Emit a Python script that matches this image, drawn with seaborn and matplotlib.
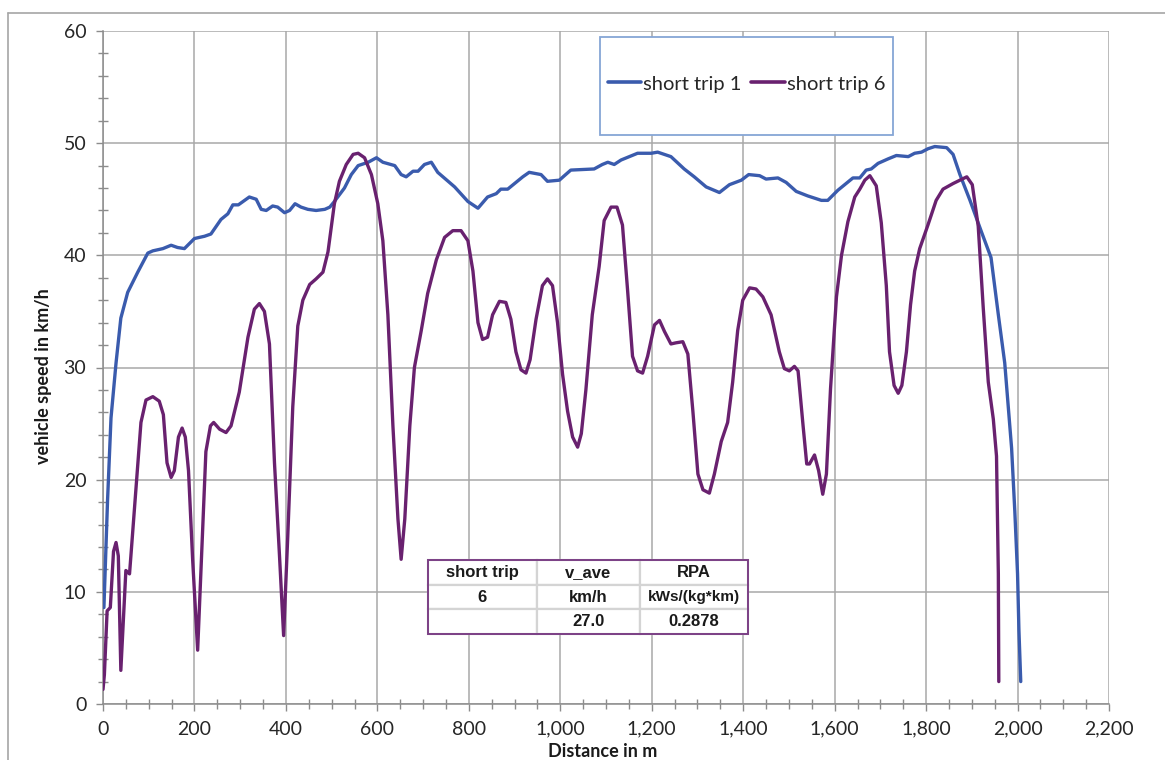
import numpy as np
import pandas as pd
import seaborn as sns
import matplotlib.pyplot as plt
from matplotlib.ticker import MultipleLocator, FuncFormatter
from matplotlib.patches import Rectangle
from matplotlib.lines import Line2D

# ---------------- data ----------------
trip1_distance = [2, 10, 17.5, 28.5, 39, 54, 76, 98, 109, 131, 149, 163, 178, 200, 222, 236, 258, 273,
                  284, 296, 320, 335, 346, 357, 371, 382, 397, 408, 420, 433, 448, 466, 485, 496, 506,
                  528, 543, 558, 580, 598, 612, 638, 652, 663, 678, 689, 703, 718, 732, 769, 798, 820,
                  841, 860, 870, 885, 900, 918, 932, 958, 972, 998, 1009, 1023, 1074, 1092, 1104, 1118,
                  1133, 1169, 1199, 1213, 1242, 1271, 1293, 1319, 1348, 1370, 1396, 1412, 1436, 1450,
                  1476, 1494, 1516, 1541, 1571, 1585, 1607, 1640, 1655, 1669, 1680, 1695, 1717, 1735,
                  1761, 1775, 1790, 1804, 1819, 1845, 1859, 1874, 1896, 1921, 1942, 1958, 1972, 1987,
                  1994, 2000, 2003, 2007]
trip1_speed = [8.6, 18.2, 25.5, 30.4, 34.4, 36.7, 38.5, 40.2, 40.4, 40.6, 40.9, 40.7, 40.6, 41.5, 41.7,
               41.9, 43.2, 43.7, 44.5, 44.5, 45.2, 45.0, 44.1, 44.0, 44.4, 44.3, 43.8, 44.0, 44.6, 44.3,
               44.1, 44.0, 44.1, 44.3, 44.8, 46.0, 47.2, 48.0, 48.3, 48.7, 48.3, 48.0, 47.2, 47.0, 47.5,
               47.5, 48.1, 48.3, 47.4, 46.1, 44.8, 44.2, 45.2, 45.5, 45.9, 45.9, 46.4, 47.0, 47.4, 47.2,
               46.6, 46.7, 47.1, 47.6, 47.7, 48.1, 48.3, 48.1, 48.5, 49.1, 49.1, 49.2, 48.8, 47.7, 47.0,
               46.1, 45.6, 46.3, 46.7, 47.2, 47.1, 46.8, 46.9, 46.5, 45.7, 45.3, 44.9, 44.9, 45.8, 46.9,
               46.9, 47.6, 47.7, 48.2, 48.6, 48.9, 48.8, 49.1, 49.2, 49.5, 49.7, 49.6, 49.0, 47.2, 44.9,
               42.1, 39.8, 34.7, 30.4, 22.8, 17.2, 11.6, 6.6, 2.0]

trip6_distance = [0, 3, 9, 16, 23, 28.5, 33.5, 39, 50, 58, 61, 72, 83, 94, 109, 123, 132, 140, 149, 156,
                  165, 173, 180, 187, 196, 207, 214, 225, 235, 242, 255, 269, 280, 298, 317, 331, 342,
                  353, 364, 375, 386, 395, 404, 415, 426, 437, 452, 466, 481, 492, 506, 517, 532, 547,
                  558, 572, 587, 601, 612, 623, 634, 645, 652, 660, 671, 681, 696, 710, 729, 747, 765,
                  783, 798, 809, 820, 830, 841, 852, 867, 881, 892, 903, 914, 925, 934, 947, 961, 972,
                  983, 994, 1005, 1016, 1027, 1038, 1046, 1056, 1070, 1085, 1096, 1111, 1124, 1136,
                  1147, 1158, 1169, 1180, 1191, 1206, 1217, 1228, 1242, 1253, 1268, 1279, 1290, 1301,
                  1312, 1326, 1337, 1352, 1366, 1377, 1388, 1399, 1414, 1428, 1443, 1461, 1479, 1490,
                  1501, 1512, 1520, 1531, 1539, 1545, 1556, 1565, 1574, 1582, 1591, 1604, 1615, 1629,
                  1644, 1655, 1666, 1677, 1691, 1702, 1713, 1720, 1730, 1739, 1747, 1757, 1766, 1775,
                  1786, 1804, 1822, 1837, 1859, 1874, 1889, 1901, 1914, 1925, 1936, 1947, 1954, 1958,
                  1959]
trip6_speed = [1.3, 2.6, 8.3, 8.6, 13.6, 14.4, 13.2, 3.0, 11.9, 11.6, 13.2, 19.2, 25.1, 27.1, 27.4, 27.0,
               25.8, 21.5, 20.2, 20.8, 23.8, 24.6, 23.8, 20.8, 12.9, 4.8, 11.6, 22.5, 24.8, 25.1, 24.5,
               24.2, 24.8, 27.8, 32.7, 35.2, 35.7, 35.0, 32.1, 21.5, 13.2, 6.1, 14.9, 26.5, 33.7, 36.0,
               37.4, 37.9, 38.5, 40.3, 44.6, 46.6, 48.1, 49.0, 49.1, 48.7, 47.2, 44.6, 41.3, 34.7, 24.8,
               16.5, 12.9, 16.5, 24.8, 30.0, 33.3, 36.6, 39.6, 41.6, 42.2, 42.2, 41.3, 38.6, 34.0, 32.5,
               32.7, 34.7, 35.9, 35.8, 34.3, 31.4, 29.8, 29.5, 30.7, 34.3, 37.3, 37.9, 37.3, 34.0, 29.4,
               26.1, 23.8, 22.9, 24.1, 28.0, 34.7, 39.0, 43.1, 44.3, 44.3, 42.7, 37.0, 31.0, 29.7, 29.5,
               31.0, 33.8, 34.2, 33.2, 32.1, 32.2, 32.3, 31.2, 26.1, 20.5, 19.1, 18.8, 20.5, 23.4, 25.1,
               28.7, 33.3, 36.0, 37.1, 37.0, 36.3, 34.7, 31.4, 29.9, 29.7, 30.1, 29.7, 24.8, 21.4, 21.4,
               22.2, 20.8, 18.7, 20.5, 28.1, 36.3, 40.0, 43.0, 45.2, 45.9, 46.7, 47.1, 46.2, 42.9, 37.3,
               31.4, 28.4, 27.7, 28.4, 31.4, 35.6, 38.6, 40.6, 42.7, 44.9, 45.9, 46.4, 46.7, 47.0, 46.3,
               42.6, 35.3, 28.7, 25.4, 22.1, 11.6, 2.0]

series_names = ["short trip 1", "short trip 6"]
series_colors = ["#3A5BAD", "#69216F"]

table_rows = [["short trip", "v_ave", "RPA"],
              ["6", "km/h", "kWs/(kg*km)"],
              ["", "27.0", "0.2878"]]

x_ticks = list(range(0, 2201, 200))
y_ticks = list(range(0, 61, 10))

# ---------------- figure ----------------
sns.set_theme(style="white")
plt.rcParams['font.family'] = ['Lato', 'DejaVu Sans']

W, H = 1165, 760
fig = plt.figure(figsize=(W / 100, H / 100), dpi=100)
ax_left, ax_right, ax_top, ax_bottom = 103, 1109, 31, 704
ax = fig.add_axes([ax_left / W, 1 - ax_bottom / H, (ax_right - ax_left) / W, (ax_bottom - ax_top) / H])

df = pd.concat([
    pd.DataFrame({"distance": trip1_distance, "speed": trip1_speed, "trip": series_names[0]}),
    pd.DataFrame({"distance": trip6_distance, "speed": trip6_speed, "trip": series_names[1]}),
], ignore_index=True)

sns.lineplot(data=df, x="distance", y="speed", hue="trip", hue_order=series_names,
             palette=series_colors, sort=False, estimator=None, linewidth=2.4,
             legend=False, ax=ax, zorder=3)

ax.set_xlim(x_ticks[0], x_ticks[-1])
ax.set_ylim(y_ticks[0], y_ticks[-1])
ax.set_xticks(x_ticks)
ax.set_yticks(y_ticks)
ax.xaxis.set_minor_locator(MultipleLocator(50))
ax.yaxis.set_minor_locator(MultipleLocator(2))
ax.xaxis.set_major_formatter(FuncFormatter(lambda v, p: f"{v:,.0f}"))

grid_c = "#A8A8A8"
ax.grid(True, which="major", color=grid_c, linewidth=1.1)
ax.set_axisbelow(True)
for s in ["top", "right"]:
    ax.spines[s].set_visible(False)
for s in ["left", "bottom"]:
    ax.spines[s].set_color("#8C8C8C")
    ax.spines[s].set_linewidth(1.1)

ax.tick_params(which="major", direction="out", length=5, width=1, color="#8C8C8C",
               labelsize=14, labelcolor="#262626", pad=7)
ax.tick_params(which="minor", direction="inout", length=7, width=1, color="#8C8C8C")
ax.tick_params(axis="x", which="both", bottom=True)
ax.tick_params(axis="y", which="both", left=True)

span_x = ax_right - ax_left
span_y = ax_bottom - ax_top
ax.set_ylabel("vehicle speed in km/h", fontsize=13, fontweight="bold", color="#1a1a1a")
ax.yaxis.set_label_coords((52 - ax_left) / span_x, (ax_bottom - 376) / span_y)
ax.set_xlabel("Distance in m", fontsize=13, fontweight="bold", color="#1a1a1a")
ax.xaxis.set_label_coords((603 - ax_left) / span_x, -(743 - ax_bottom) / span_y)

# ---------------- legend box ----------------
lx0, ly0, lx1, ly1 = 600, 37, 893, 135
fig.patches.append(Rectangle((lx0 / W, 1 - ly1 / H), (lx1 - lx0) / W, (ly1 - ly0) / H,
                             transform=fig.transFigure, facecolor="white",
                             edgecolor="#86A6D6", linewidth=1.3, zorder=5))
handles = [Line2D([0], [0], color=c, linewidth=2.6) for c in series_colors]
leg = fig.legend(handles, series_names, loc="center",
                 bbox_to_anchor=((lx0 + lx1) / 2 / W, 1 - 84 / H),
                 ncol=2, frameon=False, fontsize=14.5, handlelength=1.65,
                 handletextpad=0.1, columnspacing=0.5, labelcolor="#262626")
leg.set_zorder(6)

# ---------------- table ----------------
tx0, ty0, tx1, ty1 = 428, 560, 748, 634
bbox = [(tx0 - ax_left) / span_x, (ax_bottom - ty1) / span_y,
        (tx1 - tx0) / span_x, (ty1 - ty0) / span_y]
tbl = ax.table(cellText=table_rows, cellLoc="center", bbox=bbox,
               colWidths=[109, 103, 108])
tbl.auto_set_font_size(False)
tbl.set_zorder(7)
for (r, c), cell in tbl.get_celld().items():
    cell.set_edgecolor("#D4D4D4")
    cell.set_linewidth(1.6)
    cell.set_facecolor("white")
    txt = cell.get_text()
    txt.set_fontsize(11 if (r, c) == (1, 2) else 12)
    txt.set_fontweight("bold")
    txt.set_fontfamily(["Liberation Sans", "DejaVu Sans"])
    txt.set_color("#1a1a1a")
ax.add_patch(Rectangle((bbox[0], bbox[1]), bbox[2], bbox[3], transform=ax.transAxes,
                       fill=False, edgecolor="#7B3F85", linewidth=1.4, zorder=8, clip_on=False))

# ---------------- outer chart border ----------------
bx, by = 8, 13
fig.add_artist(Line2D([bx / W, 1], [1 - by / H, 1 - by / H], transform=fig.transFigure,
                      color="#A6A6A6", linewidth=1.2))
fig.add_artist(Line2D([bx / W, bx / W], [0, 1 - by / H], transform=fig.transFigure,
                      color="#A6A6A6", linewidth=1.2))

fig.savefig("out.png", dpi=100, facecolor="white")
